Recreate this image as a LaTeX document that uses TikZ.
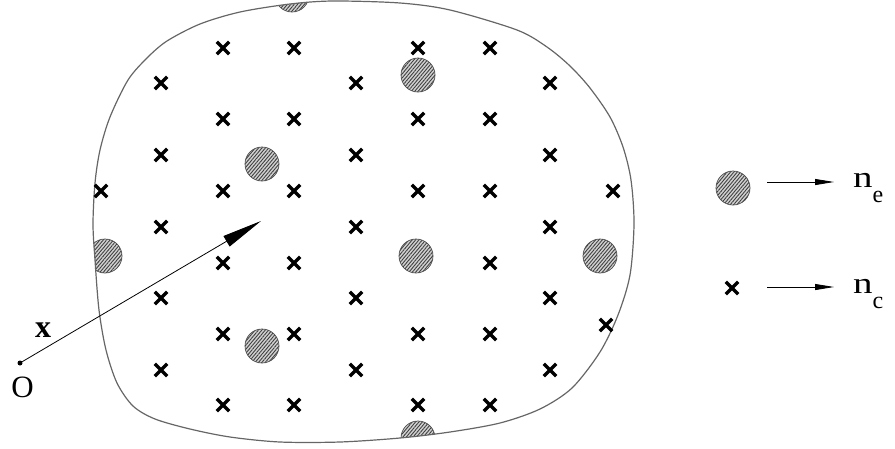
\documentclass[tikz,border=0pt]{standalone}
\usepackage{fontspec}
\setmainfont{Liberation Serif}
\usetikzlibrary{arrows.meta,patterns.meta,shapes.misc}
\tikzset{
  crs/.style={cross out, draw=black, line width=3.3pt, minimum size=9pt, inner sep=0pt},
  hatch/.style={circle, minimum size=34pt, inner sep=0pt, draw=black!70, line width=0.7pt,
    preaction={fill=gray!35}, pattern={Lines[angle=50,distance=2.6pt,line width=0.9pt]},
    pattern color=black!75},
  blob/.style={draw=black!60, line width=1.2pt},
  lbl/.style={inner sep=0pt, font=\fontsize{31}{36}\selectfont},
  sublbl/.style={inner sep=0pt, font=\fontsize{30}{36}\selectfont},
  conn/.style={draw=black, line width=0.8pt},
}
\begin{document}
\begin{tikzpicture}[x=1pt,y=-1pt]
\useasboundingbox (0,0) rectangle (895,448);
% hatched circles, clipped by the region
\begin{scope}
\clip plot[smooth cycle, tension=0.5] coordinates {
 (93,224) (95,183) (100,150) (110,117) (128,80) (147,58) (167,41) (200,24) (240,12) (290,4) (333,1) (400,3) (450,10)
 (517,30) (547,47) (570,66) (590,88) (610,117) (623,147) (631,180) (634,224) (630,275)
 (618,315) (600,352) (572,388) (540,409) (500,423) (450,432) (400,438) (340,442) (280,442) (230,437)
 (190,429) (155,419) (133,406) (117,383) (106,350) (99,310) (95,260)};
\node[hatch] (e1) at (292,-5) {};
\node[hatch] (e2) at (418,75) {};
\node[hatch] (e3) at (262,164) {};
\node[hatch] (e4) at (105,256) {};
\node[hatch] (e5) at (416,256) {};
\node[hatch] (e6) at (600,256) {};
\node[hatch] (e7) at (262,346) {};
\node[hatch] (e8) at (418,438) {};
\end{scope}
% region boundary
\path[blob] plot[smooth cycle, tension=0.5] coordinates {
 (93,224) (95,183) (100,150) (110,117) (128,80) (147,58) (167,41) (200,24) (240,12) (290,4) (333,1) (400,3) (450,10)
 (517,30) (547,47) (570,66) (590,88) (610,117) (623,147) (631,180) (634,224) (630,275)
 (618,315) (600,352) (572,388) (540,409) (500,423) (450,432) (400,438) (340,442) (280,442) (230,437)
 (190,429) (155,419) (133,406) (117,383) (106,350) (99,310) (95,260)};
% crosses
\foreach \px/\py [count=\i] in {
 223/48,294/48,418/48,490/48,
 223/119,294/119,418/119,490/119,
 223/191,294/191,418/191,490/191,
 223/263,294/263,490/263,
 223/334,294/334,418/334,490/334,
 223/405,294/405,418/405,490/405,
 161/83,356/83,550/83,
 161/155,356/155,550/155,
 161/227,356/227,550/227,
 161/298,356/298,550/298,
 161/370,356/370,550/370,
 101/191,613/191,606/325}
  \node[crs] (c\i) at (\px,\py) {};
% position vector
\node[circle, fill=black, inner sep=0pt, minimum size=5pt] (o) at (20,363) {};
\coordinate (tip) at (261,221);
\draw[conn, -{Triangle[length=40pt,width=12pt]}] (o) -- (tip);
\node[lbl] (olbl) at (22.5,387) {O};
\node[lbl, font=\fontsize{32}{36}\selectfont\bfseries] (xlbl) at (43,330) {x};
% legend
\node[hatch] (le) at (733,188) {};
\node[crs] (lc) at (732,288) {};
\coordinate (a1s) at (767,182);
\coordinate (a1e) at (834,182);
\coordinate (a2s) at (767,287);
\coordinate (a2e) at (834,287);
\draw[conn, -{Triangle[length=19pt,width=6pt]}] (a1s) -- (a1e);
\draw[conn, -{Triangle[length=19pt,width=6pt]}] (a2s) -- (a2e);
\node[sublbl, anchor=base west] (ne) at (853,187) {\scalebox{1.3}[1]{n}\raisebox{-15pt}{\fontsize{24}{24}\selectfont e}};
\node[sublbl, anchor=base west] (nc) at (853,293) {\scalebox{1.3}[1]{n}\raisebox{-15pt}{\fontsize{24}{24}\selectfont c}};
\end{tikzpicture}
\end{document}
